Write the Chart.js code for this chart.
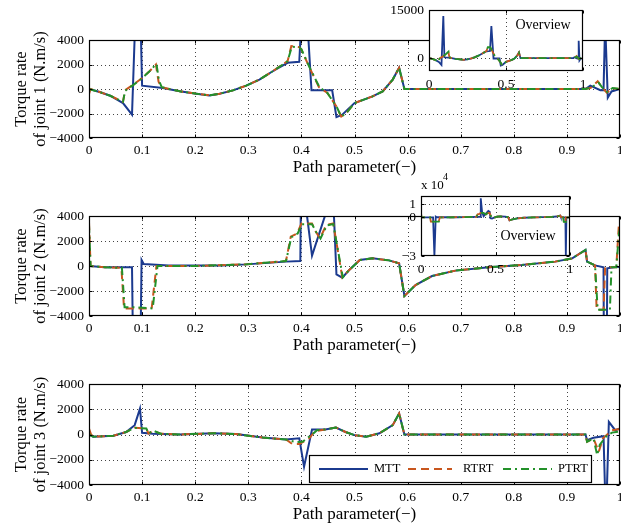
<!DOCTYPE html>
<html><head><meta charset="utf-8">
<script src="https://cdn.jsdelivr.net/npm/chart.js@4"></script>
<style>
html,body{margin:0;padding:0;background:#fff;}
#wrap{position:relative;width:621px;height:529px;overflow:hidden;background:#fff;}
canvas{position:absolute;left:0;top:0;}
</style></head><body><div id="wrap">
<canvas id="c1" width="621" height="529"></canvas>
<canvas id="c2" width="621" height="529"></canvas>
<canvas id="c3" width="621" height="529"></canvas>
<canvas id="c4" width="621" height="529"></canvas>
<canvas id="c5" width="621" height="529"></canvas>
</div>
<script>
// ---------------- data ----------------
const seriesNames = ['MTT', 'RTRT', 'PTRT'];
const xTickValues = [0, 0.1, 0.2, 0.3, 0.4, 0.5, 0.6, 0.7, 0.8, 0.9, 1];
const yTickValues = [-4000, -2000, 0, 2000, 4000];
const insetXTicks = [0, 0.5, 1];
const inset1YTicks = [0, 15000];
const inset2YTicks = [-30000, 0, 10000];
const xTitle = 'Path parameter(−)';
const yTitles = [['Torque rate', 'of joint 1 (N.m/s)'], ['Torque rate', 'of joint 2 (N.m/s)'], ['Torque rate', 'of joint 3 (N.m/s)']];

// joint 1
const j1MttX = [0, 0.02, 0.04, 0.064, 0.081, 0.093, 0.1, 0.139, 0.171, 0.202, 0.227, 0.246, 0.271, 0.296, 0.321, 0.346, 0.374, 0.396, 0.405, 0.419, 0.458, 0.466, 0.477, 0.5, 0.534, 0.553, 0.572, 0.584, 0.594, 0.7, 0.8, 0.935, 0.944, 0.963, 0.969, 0.972, 0.977, 0.984, 1.0];
const j1MttY = [0, -250, -550, -1150, -2100, 13150, 270, 80, -190, -380, -520, -380, -110, 270, 770, 1450, 2140, 2220, 10000, -100, -100, -2300, -2100, -1150, -600, -200, 770, 1730, 0, 0, 0, 0, 270, -100, -100, 5450, -700, -200, 0];
const j1RtrtX = [0, 0.003, 0.02, 0.04, 0.064, 0.068, 0.085, 0.1, 0.114, 0.126, 0.131, 0.136, 0.171, 0.202, 0.227, 0.246, 0.271, 0.296, 0.321, 0.346, 0.374, 0.381, 0.396, 0.4, 0.414, 0.433, 0.449, 0.466, 0.475, 0.484, 0.5, 0.534, 0.553, 0.572, 0.584, 0.594, 0.7, 0.8, 0.935, 0.945, 0.958, 0.965, 0.975, 0.985, 1.0];
const j1RtrtY = [-400, 0, -250, -550, -1050, -100, 400, 900, 1450, 2000, 600, 150, -190, -380, -520, -380, -110, 270, 770, 1450, 2270, 3500, 3420, 3230, 1860, 160, -330, -1420, -2250, -2000, -1150, -600, -200, 770, 1730, 0, 0, 0, 0, 100, 630, 200, -300, 50, 0];
const j1PtrtX = [0, 0.02, 0.04, 0.064, 0.068, 0.085, 0.1, 0.114, 0.127, 0.132, 0.137, 0.171, 0.202, 0.227, 0.246, 0.271, 0.296, 0.321, 0.346, 0.374, 0.382, 0.396, 0.4, 0.415, 0.434, 0.449, 0.466, 0.475, 0.484, 0.5, 0.534, 0.553, 0.572, 0.584, 0.594, 0.7, 0.8, 0.935, 0.945, 0.96, 0.966, 0.976, 0.986, 1.0];
const j1PtrtY = [0, -250, -550, -1050, -150, 380, 880, 1450, 2050, 650, 150, -190, -380, -520, -380, -110, 270, 770, 1450, 2270, 3450, 3400, 3250, 1800, 150, -330, -1420, -2250, -2000, -1150, -600, -200, 770, 1730, 0, 0, 0, 0, 100, 500, 150, -250, 80, 0];

// joint 2
const j2MttX = [0, 0.03, 0.06, 0.081, 0.09, 0.099, 0.103, 0.15, 0.25, 0.296, 0.371, 0.398, 0.401, 0.41, 0.42, 0.452, 0.461, 0.466, 0.477, 0.49, 0.51, 0.534, 0.565, 0.584, 0.594, 0.615, 0.646, 0.69, 0.753, 0.815, 0.878, 0.91, 0.935, 0.938, 0.953, 0.969, 0.972, 0.976, 0.994, 1.0];
const j2MttY = [0, -100, -100, -100, -30000, 480, 160, 50, 50, 130, 350, 400, 14700, 4200, 830, 5000, 4300, -670, -930, -320, 480, 610, 450, 210, -2400, -1520, -800, -370, -100, 80, 350, 610, 1280, 350, 50, -100, -30000, -190, -70, -100];
const j2RtrtX = [0, 0.003, 0.03, 0.061, 0.066, 0.09, 0.118, 0.127, 0.2, 0.296, 0.371, 0.38, 0.392, 0.4, 0.42, 0.427, 0.435, 0.447, 0.46, 0.477, 0.49, 0.51, 0.534, 0.565, 0.584, 0.594, 0.615, 0.646, 0.69, 0.753, 0.815, 0.878, 0.91, 0.935, 0.938, 0.953, 0.956, 0.969, 0.972, 0.993, 0.998, 1.0];
const j2RtrtY = [3500, 0, -100, -150, -3400, -3400, -3400, 0, 0, 130, 400, 2350, 2600, 3400, 3400, 2750, 2200, 3300, 3400, -900, -320, 480, 610, 450, 210, -2400, -1520, -800, -370, -100, 80, 350, 610, 1280, 350, 50, -3500, -3500, -100, -100, 3400, 3400];
const j2PtrtX = [0, 0.003, 0.03, 0.062, 0.067, 0.09, 0.12, 0.129, 0.2, 0.296, 0.371, 0.381, 0.393, 0.401, 0.42, 0.428, 0.436, 0.448, 0.46, 0.478, 0.49, 0.51, 0.534, 0.565, 0.584, 0.594, 0.615, 0.646, 0.69, 0.753, 0.815, 0.878, 0.91, 0.935, 0.938, 0.953, 0.958, 0.981, 0.984, 0.993, 0.998, 1.0];
const j2PtrtY = [3300, 0, -100, -150, -3300, -3300, -3400, 0, 0, 130, 400, 2300, 2600, 3350, 3350, 2700, 2200, 3250, 3350, -900, -320, 480, 610, 450, 210, -2400, -1520, -800, -370, -100, 80, 350, 610, 1280, 350, 50, -3500, -3500, -100, -100, 2600, 3000];

// joint 3
const j3MttX = [0, 0.008, 0.046, 0.07, 0.086, 0.096, 0.1, 0.12, 0.17, 0.234, 0.277, 0.327, 0.371, 0.396, 0.405, 0.42, 0.445, 0.465, 0.483, 0.5, 0.522, 0.547, 0.572, 0.584, 0.594, 0.7, 0.935, 0.938, 0.95, 0.969, 0.9735, 0.979, 0.991, 1.0];
const j3MttY = [0, -180, -100, 200, 740, 2050, 130, 50, 0, 100, 30, -240, -400, -300, -2550, 400, 400, 550, 200, -50, -180, 100, 740, 1660, 0, 0, 0, -450, -260, -130, -7000, 1000, 340, 470];
const j3RtrtX = [0, 0.004, 0.008, 0.046, 0.07, 0.086, 0.108, 0.112, 0.121, 0.135, 0.17, 0.234, 0.277, 0.327, 0.371, 0.383, 0.396, 0.415, 0.425, 0.445, 0.465, 0.483, 0.5, 0.522, 0.547, 0.572, 0.584, 0.594, 0.7, 0.935, 0.938, 0.95, 0.96, 0.968, 0.985, 1.0];
const j3RtrtY = [470, 0, -180, -100, 200, 530, 470, 80, 300, 60, 0, 100, 30, -240, -400, -760, -760, -300, 250, 400, 550, 200, -50, -180, 100, 740, 1660, 0, 0, 0, -580, -300, -1370, -300, 330, 440];
const j3PtrtX = [0, 0.008, 0.046, 0.07, 0.086, 0.108, 0.112, 0.121, 0.135, 0.17, 0.234, 0.277, 0.327, 0.371, 0.39, 0.402, 0.42, 0.43, 0.445, 0.465, 0.483, 0.5, 0.522, 0.547, 0.572, 0.584, 0.594, 0.7, 0.935, 0.938, 0.95, 0.957, 0.962, 0.975, 0.985, 1.0];
const j3PtrtY = [0, -180, -100, 200, 530, 480, 80, 300, 60, 0, 100, 30, -240, -400, -600, -580, 0, 350, 400, 550, 200, -50, -180, 100, 740, 1660, 0, 0, 0, -580, -300, -1630, -800, -100, 150, 250];

// ---------------- styling ----------------
const FAM = "'Liberation Serif', 'Times New Roman', serif";
const COLORS = ['#1b3a8f', '#c8561e', '#23912a'];
const DASHES = [[], [8, 5], [8, 4, 2, 4]];

function pts(xs, ys) { return xs.map((x, i) => ({ x: x, y: ys[i] })); }
function makeSets(triple, width) {
  return triple.map((xy, i) => ({
    label: seriesNames[i], data: pts(xy[0], xy[1]), borderColor: COLORS[i], borderWidth: width,
    borderDash: DASHES[i], pointRadius: 0, fill: false, tension: 0, order: 3 - i
  }));
}
function fmtNum(v) { return v < 0 ? '−' + Math.abs(v) : String(v); }

function makeFrame(cfg) {
  return {
    id: 'frame',
    beforeDraw(chart) {
      if (!cfg.white) return;
      const a = chart.chartArea, c = chart.ctx;
      c.save(); c.fillStyle = '#fff'; c.fillRect(a.left, a.top, a.right - a.left, a.bottom - a.top); c.restore();
    },
    beforeDatasetsDraw(chart) {
      const a = chart.chartArea, c = chart.ctx, xs = chart.scales.x, ys = chart.scales.y;
      c.save(); c.strokeStyle = '#444'; c.lineWidth = 1; c.setLineDash([1, 3]);
      cfg.gridX.forEach(v => {
        if (v <= xs.min || v >= xs.max) return;
        const p = Math.round(xs.getPixelForValue(v)) + 0.5;
        c.beginPath(); c.moveTo(p, a.top); c.lineTo(p, a.bottom); c.stroke();
      });
      cfg.gridY.forEach(v => {
        if (v <= ys.min || v >= ys.max) return;
        const p = Math.round(ys.getPixelForValue(v)) + 0.5;
        c.beginPath(); c.moveTo(a.left, p); c.lineTo(a.right, p); c.stroke();
      });
      c.restore();
    },
    afterDatasetsDraw(chart) {
      const a = chart.chartArea, c = chart.ctx, xs = chart.scales.x, ys = chart.scales.y;
      const L = Math.round(a.left) + 0.5, R = Math.round(a.right) - 0.5, T = Math.round(a.top) + 0.5, B = Math.round(a.bottom) - 0.5;
      c.save(); c.strokeStyle = '#000'; c.lineWidth = 1.2; c.setLineDash([]);
      c.strokeRect(L, T, R - L, B - T);
      c.lineWidth = 1;
      cfg.gridX.forEach(v => {
        const p = Math.round(xs.getPixelForValue(v)) + 0.5;
        c.beginPath(); c.moveTo(p, B); c.lineTo(p, B - 3); c.moveTo(p, T); c.lineTo(p, T + 3); c.stroke();
      });
      cfg.gridY.forEach(v => {
        const p = Math.round(ys.getPixelForValue(v)) + 0.5;
        c.beginPath(); c.moveTo(L, p); c.lineTo(L + 3, p); c.moveTo(R, p); c.lineTo(R - 3, p); c.stroke();
      });
      c.restore();
    },
    afterDraw(chart) { if (cfg.extra) cfg.extra(chart.ctx, chart); }
  };
}

function makeChart(id, box, sets, ymin, ymax, xTicks, yTicks, yFmt, xFmt, opts) {
  const XH = opts.xh, YW = box.left;
  return new Chart(document.getElementById(id), {
    type: 'line',
    data: { datasets: sets },
    options: {
      responsive: false, animation: false, devicePixelRatio: 1,
      layout: { padding: { left: 0, right: 621 - box.right, top: box.top, bottom: 529 - box.bottom - XH } },
      plugins: { legend: { display: false }, tooltip: { enabled: false }, title: { display: false } },
      scales: {
        x: {
          type: 'linear', min: 0, max: 1,
          afterBuildTicks: s => { s.ticks = xTicks.map(v => ({ value: v })); },
          afterFit: s => { s.height = XH; s.paddingLeft = 0; s.paddingRight = 0; },
          grid: { display: false, drawTicks: false, tickLength: 0 }, border: { display: false },
          ticks: { font: { family: FAM, size: opts.tickSize }, color: '#000', padding: opts.xpad, maxRotation: 0, autoSkip: false, callback: v => xFmt(v) },
          title: opts.xTitle ? { display: true, text: opts.xTitle, color: '#000', font: { family: FAM, size: 17, lineHeight: 1.1 }, padding: { top: 0, bottom: 1 } } : { display: false }
        },
        y: {
          type: 'linear', min: ymin, max: ymax,
          afterBuildTicks: s => { s.ticks = yTicks.map(v => ({ value: v })); },
          afterFit: s => { s.width = YW; s.paddingTop = 0; s.paddingBottom = 0; },
          grid: { display: false, drawTicks: false, tickLength: 0 }, border: { display: false },
          ticks: { font: { family: FAM, size: opts.tickSize }, color: '#000', padding: 5, autoSkip: false, callback: v => yFmt(v) },
          title: opts.yTitle ? { display: true, text: opts.yTitle, color: '#000', font: { family: FAM, size: 16.5, lineHeight: 1.12 }, padding: { top: 12.5, bottom: 0 } } : { display: false }
        }
      }
    },
    plugins: [makeFrame({ white: opts.white, gridX: xTicks, gridY: yTicks, extra: opts.extra })]
  });
}

const j1 = [[j1MttX, j1MttY], [j1RtrtX, j1RtrtY], [j1PtrtX, j1PtrtY]];
const j2 = [[j2MttX, j2MttY], [j2RtrtX, j2RtrtY], [j2PtrtX, j2PtrtY]];
const j3 = [[j3MttX, j3MttY], [j3RtrtX, j3RtrtY], [j3PtrtX, j3PtrtY]];
const fmtX = v => String(Math.round(v * 10) / 10);

function drawLegend(c) {
  c.save();
  c.fillStyle = '#fff'; c.fillRect(309, 455, 282, 27);
  c.strokeStyle = '#000'; c.lineWidth = 1.2; c.strokeRect(309.5, 455.5, 282, 27);
  const items = [[319, 368, 374], [408, 452, 463], [503, 552, 558]];
  c.font = '12.5px ' + FAM; c.textBaseline = 'middle'; c.textAlign = 'left';
  items.forEach((it, i) => {
    c.strokeStyle = COLORS[i]; c.lineWidth = 2; c.setLineDash(DASHES[i]);
    c.beginPath(); c.moveTo(it[0], 469); c.lineTo(it[1], 469); c.stroke();
    c.setLineDash([]); c.fillStyle = '#000'; c.fillText(seriesNames[i], it[2], 469);
  });
  c.restore();
}

const mainOpts = (t) => ({ xh: 40, tickSize: 13.5, xpad: 4, xTitle: xTitle, yTitle: t, white: false });
makeChart('c1', { left: 89, right: 620, top: 40, bottom: 138 }, makeSets(j1, 2), -4000, 4000, xTickValues, yTickValues, fmtNum, fmtX, mainOpts(yTitles[0]));
makeChart('c2', { left: 89, right: 620, top: 216, bottom: 316 }, makeSets(j2, 2), -4000, 4000, xTickValues, yTickValues, fmtNum, fmtX, mainOpts(yTitles[1]));
const o3 = mainOpts(yTitles[2]); o3.extra = (c) => drawLegend(c);
makeChart('c3', { left: 89, right: 620, top: 384, bottom: 485 }, makeSets(j3, 2), -4000, 4000, xTickValues, yTickValues, fmtNum, fmtX, o3);

makeChart('c4', { left: 429, right: 583, top: 10, bottom: 71 }, makeSets(j1, 1.8), -4000, 15000, insetXTicks, inset1YTicks, v => String(v), v => String(v),
  { xh: 20, tickSize: 13.5, xpad: 5, white: true, extra: (c) => {
    c.save(); c.font = '14px ' + FAM; c.fillStyle = '#000'; c.textAlign = 'center'; c.textBaseline = 'middle';
    c.fillText('Overview', 543, 25); c.restore();
  } });
makeChart('c5', { left: 421, right: 570, top: 196, bottom: 256 }, makeSets(j2, 1.8), -30000, 16500, insetXTicks, inset2YTicks, v => fmtNum(v / 10000), v => String(v),
  { xh: 20, tickSize: 13.5, xpad: 5, white: true, extra: (c) => {
    c.save(); c.fillStyle = '#000'; c.textBaseline = 'middle'; c.textAlign = 'left';
    c.font = '14px ' + FAM; c.textAlign = 'center'; c.fillText('Overview', 528, 236);
    c.textAlign = 'left'; c.font = '13px ' + FAM; c.fillText('x 10', 421, 186);
    c.font = '10px ' + FAM; c.fillText('4', 443, 177);
    c.restore();
  } });
</script>
</body></html>
